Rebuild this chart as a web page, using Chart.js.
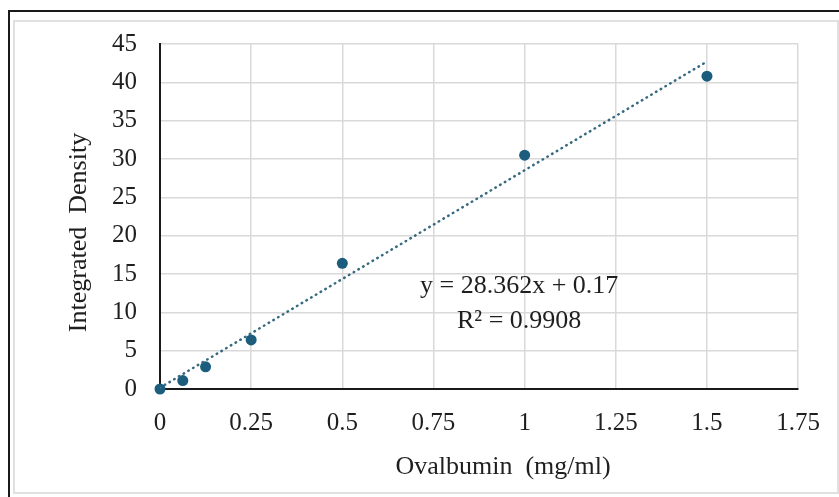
<!DOCTYPE html>
<html>
<head>
<meta charset="utf-8">
<script src="https://cdn.jsdelivr.net/npm/chart.js@4/dist/chart.umd.min.js"></script>
<style>
  html, body { margin: 0; padding: 0; background: #fff; }
  #wrap { position: relative; width: 839px; height: 497px; overflow: hidden; }
  .frame-dark { position: absolute; left: 8px; top: 10px; right: -4px; bottom: -4px;
    border-top: 2px solid #1a1a1a; border-left: 2px solid #1a1a1a; }
  .frame-light { position: absolute; left: 13px; top: 20px; width: 822px; height: 470px;
    border: 2px solid #e0e0e0; }
  canvas { position: absolute; left: 0; top: 0; }
</style>
</head>
<body>
<div id="wrap">
  <div class="frame-dark"></div>
  <div class="frame-light"></div>
  <canvas id="chart" width="839" height="497"></canvas>
</div>
<script>
// ---------- Data ----------
const concentrations = [0, 0.0625, 0.125, 0.25, 0.5, 1, 1.5];
const densities = [0, 1.1, 2.9, 6.4, 16.4, 30.5, 40.8];

const xTicks = [0, 0.25, 0.5, 0.75, 1, 1.25, 1.5, 1.75];
const yTicks = [0, 5, 10, 15, 20, 25, 30, 35, 40, 45];

const xTitle = "Ovalbumin  (mg/ml)";
const yTitle = "Integrated  Density";

// trendline from the equation printed on the chart
const slope = 28.362;
const intercept = 0.17;
const rSquared = 0.9908;
const trendRange = [0, 1.5];

// ---------- Helpers ----------
const serif = "'Liberation Serif', 'Times New Roman', serif";
const textColor = "#1f1f1f";

function fmt(v) {
  return String(Number(v.toFixed(4)));
}

const points = concentrations.map((x, i) => ({ x, y: densities[i] }));
const trend = trendRange.map((x) => ({ x, y: slope * x + intercept }));

// equation label + axis titles (placed like the Excel original, a bit off-centre)
const extraText = {
  id: "extraText",
  afterDatasetsDraw(chart) {
    const { ctx, scales, chartArea } = chart;
    const cx = scales.x.getPixelForValue(0.985);
    ctx.save();
    ctx.font = "26px " + serif;
    ctx.fillStyle = textColor;
    ctx.textAlign = "center";
    ctx.textBaseline = "middle";
    ctx.fillText("y = 28.362x + 0.17", cx, scales.y.getPixelForValue(13.4));
    ctx.fillText("R\u00B2 = " + rSquared, cx, scales.y.getPixelForValue(8.9));

    // x title
    ctx.fillText(xTitle, (chartArea.left + chartArea.right) / 2 + 24, chartArea.bottom + 78);

    // y title
    ctx.translate(chartArea.left - 81, (chartArea.top + chartArea.bottom) / 2 + 16);
    ctx.rotate(-Math.PI / 2);
    ctx.fillText(yTitle, 0, 0);
    ctx.restore();
  }
};

// ---------- Chart ----------
const ctx = document.getElementById("chart").getContext("2d");

new Chart(ctx, {
  type: "scatter",
  data: {
    datasets: [
      {
        label: "Trendline",
        type: "line",
        data: trend,
        borderColor: "#35697f",
        borderWidth: 2.5,
        borderDash: [0.5, 5],
        borderCapStyle: "round",
        pointRadius: 0,
        fill: false,
        order: 1
      },
      {
        label: "Integrated Density",
        data: points,
        backgroundColor: "#1c5d7d",
        borderWidth: 0,
        pointRadius: 5.5,
        clip: false,
        order: 2
      }
    ]
  },
  options: {
    responsive: false,
    animation: false,
    layout: { padding: { top: 44, right: 40, left: 0, bottom: 0 } },
    plugins: {
      legend: { display: false },
      tooltip: { enabled: false }
    },
    scales: {
      x: {
        type: "linear",
        min: 0,
        max: 1.75,
        afterBuildTicks: (scale) => {
          scale.ticks = xTicks.map((value) => ({ value }));
        },
        afterFit: (scale) => {
          scale.height = 108;
        },
        ticks: {
          callback: (v) => fmt(v),
          color: textColor,
          font: { family: serif, size: 25 },
          padding: 19,
          maxRotation: 0,
          autoSkip: false
        },
        grid: { color: "#d9d9d9", lineWidth: 1.5, drawTicks: false },
        border: { color: "#1a1a1a", width: 2 }
      },
      y: {
        type: "linear",
        min: 0,
        max: 45,
        afterBuildTicks: (scale) => {
          scale.ticks = yTicks.map((value) => ({ value }));
        },
        afterFit: (scale) => {
          scale.width = 160;
        },
        ticks: {
          callback: (v) => fmt(v),
          color: textColor,
          font: { family: serif, size: 25 },
          padding: 23,
          autoSkip: false
        },
        grid: { color: "#d9d9d9", lineWidth: 1.5, drawTicks: false },
        border: { color: "#1a1a1a", width: 2 }
      }
    }
  },
  plugins: [extraText]
});
</script>
</body>
</html>
